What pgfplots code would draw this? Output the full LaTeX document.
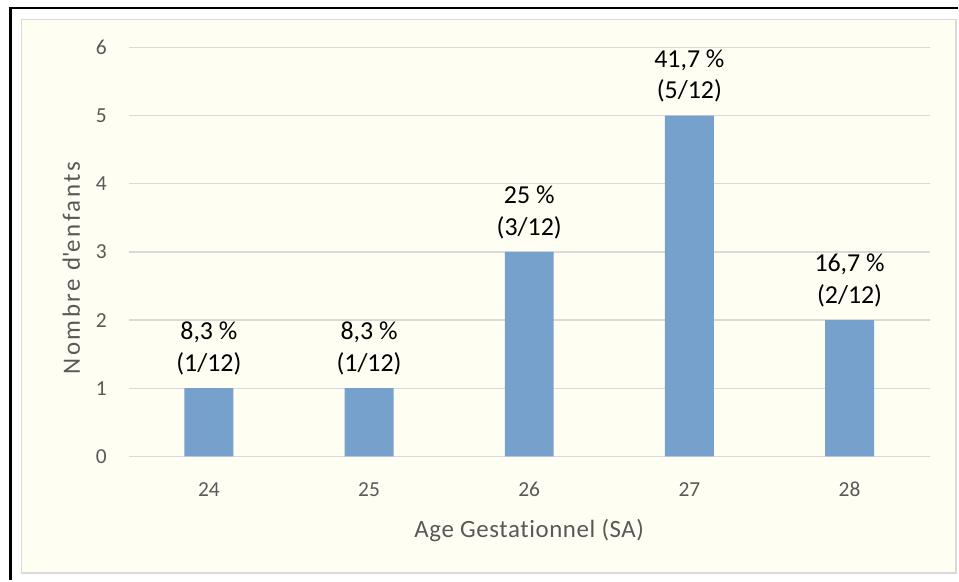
\documentclass[border=0pt]{standalone}
\usepackage{fontspec}
\setmainfont{Carlito}[Ligatures={NoCommon}]
\newfontfamily\ylfont{Carlito}[LetterSpace=10, Ligatures={NoCommon}]
\newfontfamily\xlfont{Carlito}[LetterSpace=2.4, Ligatures={NoCommon}]
\usepackage{pgfplots}
\pgfplotsset{compat=1.18}
\definecolor{barblue}{RGB}{118,161,204}
\definecolor{cream}{RGB}{254,254,242}
\definecolor{gridgray}{RGB}{217,217,217}
\definecolor{ticktext}{RGB}{89,89,89}
\begin{document}
\begin{tikzpicture}[x=1bp,y=1bp]
\fill[white] (0,0) rectangle (959,581);
\draw[line width=1.5bp, draw=gridgray, fill=cream] (21.5,7) rectangle (957.5,561.5);
\draw[line width=2.8bp, black] (10.8,0) -- (10.8,573) -- (959,573);
\begin{axis}[
  at={(129bp,124bp)}, anchor=south west,
  scale only axis, width=802bp, height=409.3bp,
  xmin=23.5, xmax=28.5, ymin=0, ymax=6,
  ybar, bar width=49bp,
  xtick={24,25,26,27,28}, ytick={0,1,2,3,4,5,6},
  ymajorgrids, grid style={gridgray, line width=1.2bp},
  axis line style={draw=none}, major tick length=0pt,
  tick label style={font=\fontsize{21.5}{25}\selectfont, text=ticktext},
  /pgf/number format/assume math mode=true,
  yticklabel style={anchor=east, inner sep=0pt, xshift=-22bp},
  xticklabel style={anchor=base, inner sep=0pt, yshift=-40bp},
  xlabel={Age Gestationnel (SA)},
  ylabel={Nombre d\textquotesingle enfants},
  label style={text=ticktext},
  xlabel style={font=\xlfont\fontsize{25}{28}\selectfont, at={(axis description cs:0.5,0)}, anchor=base, yshift=-81bp, inner sep=0pt},
  ylabel style={font=\ylfont\fontsize{25}{28}\selectfont, at={(axis description cs:-0.0717,0.4605)}, anchor=center, inner sep=0pt},
  clip=false,
  nodes near coords, point meta=explicit symbolic,
  every node near coord/.append style={font=\fontsize{26}{32}\selectfont, text=black, align=center, anchor=south, inner sep=0pt, yshift=13bp},
]
\addplot[fill=barblue, draw=none] coordinates {
  (24,1) [8,3 \%\\(1/12)]
  (25,1) [8,3 \%\\(1/12)]
  (26,3) [25 \%\\(3/12)]
  (27,5) [41,7 \%\\(5/12)]
  (28,2) [16,7 \%\\(2/12)]
};
\end{axis}
\end{tikzpicture}
\end{document}
